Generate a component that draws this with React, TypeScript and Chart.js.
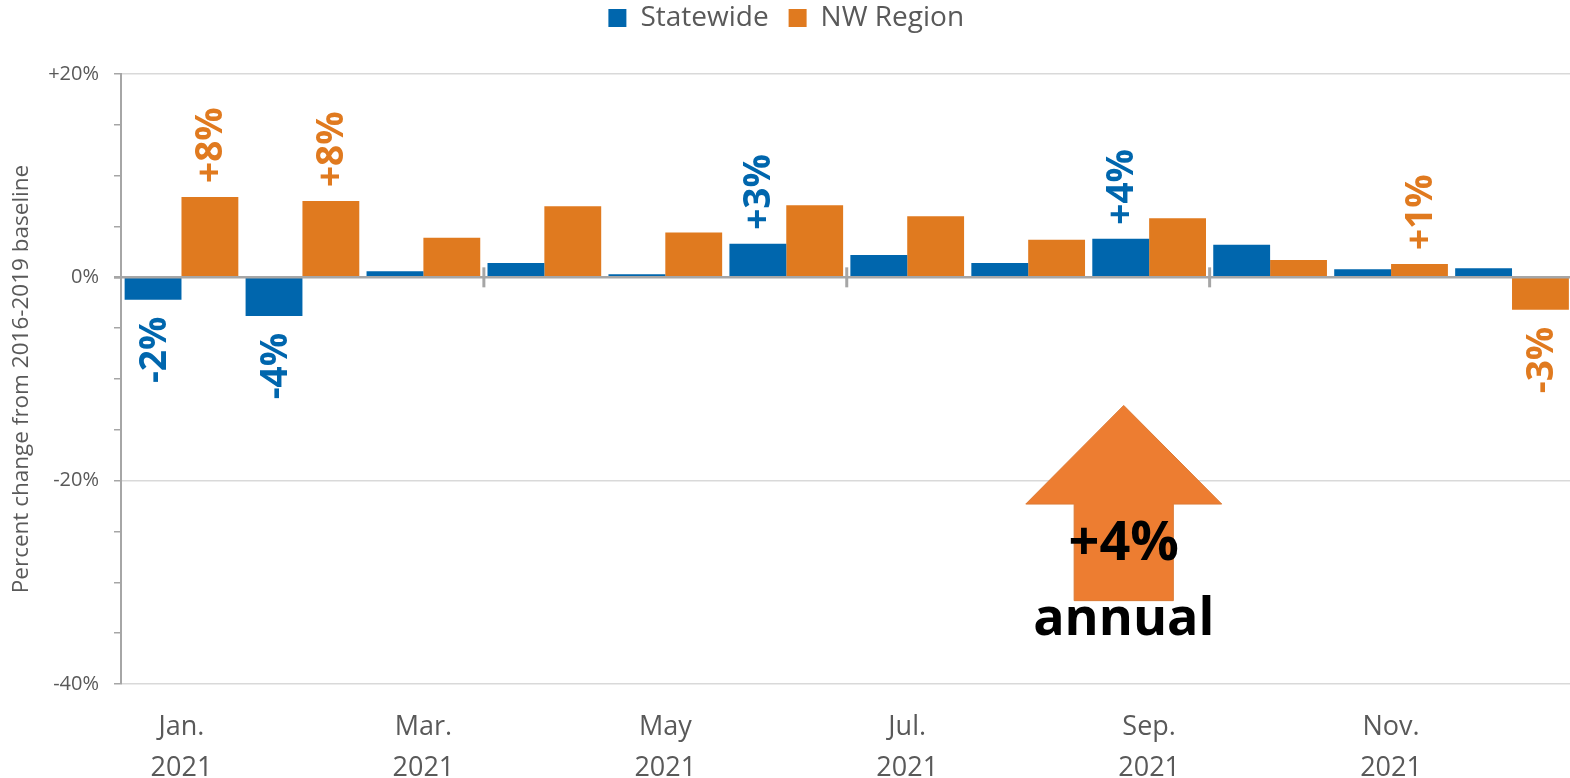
import React, { useEffect, useRef } from 'react';
import { Chart, registerables, layouts } from 'chart.js';

Chart.register(...registerables);

const months = ['Jan.', 'Feb.', 'Mar.', 'Apr.', 'May', 'Jun.', 'Jul.', 'Aug.', 'Sep.', 'Oct.', 'Nov.', 'Dec.'];
const year = '2021';
const statewide = [-2.2, -3.8, 0.6, 1.4, 0.3, 3.3, 2.2, 1.4, 3.8, 3.2, 0.8, 0.9];
const nwRegion = [7.9, 7.5, 3.9, 7.0, 4.4, 7.1, 6.0, 3.7, 5.8, 1.7, 1.3, -3.2];
const statewideLabels = ['-2%', '-4%', '', '', '', '+3%', '', '', '+4%', '', '', ''];
const nwLabels = ['+8%', '+8%', '', '', '', '', '', '', '', '', '+1%', '-3%'];
const seriesNames = ['Statewide', 'NW Region'];
const seriesColors = ['#0066AD', '#E07A1F'];
const yMin = -40;
const yMax = 20;
const yStep = 5;
const yLabelStep = 20;
const yTitle = 'Percent change from 2016-2019 baseline';
const zeroLineTickAfter = [2, 5, 8, 11];

// annotation (arrow) in data units: x in category index, y in percent
const arrowX = 7.79;
const arrowTipY = -12.6;
const arrowWingY = -22.3;
const arrowBottomY = -31.8;
const arrowHeadHalf = 0.81;
const arrowShaftHalf = 0.41;
const arrowText = '+4%';
const arrowTextY = -26.3;
const arrowSubText = 'annual';
const arrowSubTextY = -33.7;

const FONT = "'Open Sans', sans-serif";
const GRAY = '#595959';

const spacerPlugin = {
  id: 'spacer',
  beforeInit(chart: any) {
    const box: any = {
      position: 'top',
      weight: 500,
      fullSize: true,
      options: {},
      left: 0, top: 0, right: 0, bottom: 0, width: 0, height: 0,
      isHorizontal() { return true; },
      update(maxWidth: number) {
        this.width = maxWidth;
        this.height = 32;
        return { width: maxWidth, height: 32 };
      },
      draw() {},
    };
    layouts.addBox(chart, box);
  },
};

const decorPlugin = {
  id: 'decor',
  afterDatasetsDraw(chart: any) {
    const { ctx, chartArea } = chart;
    const x = chart.scales.x;
    const y = chart.scales.y;
    const y0 = y.getPixelForValue(0);
    ctx.save();
    // zero line
    ctx.strokeStyle = '#A6A6A6';
    ctx.lineWidth = 2.5;
    ctx.beginPath();
    ctx.moveTo(chartArea.left - 7, y0);
    ctx.lineTo(chartArea.right, y0);
    ctx.stroke();
    ctx.lineWidth = 3;
    for (const b of zeroLineTickAfter) {
      const px = (x.getPixelForValue(b) + x.getPixelForValue(b + 1)) / 2;
      ctx.beginPath();
      ctx.moveTo(px, y0 - 10);
      ctx.lineTo(px, y0 + 10);
      ctx.stroke();
    }
    // data labels
    const labelSets = [statewideLabels, nwLabels];
    chart.data.datasets.forEach((ds: any, di: number) => {
      const meta = chart.getDatasetMeta(di);
      meta.data.forEach((bar: any, i: number) => {
        const txt = labelSets[di][i];
        if (!txt) return;
        const v = ds.data[i];
        ctx.save();
        ctx.translate(bar.x + 2, bar.y);
        ctx.rotate(-Math.PI / 2);
        ctx.font = `bold 37px ${FONT}`;
        ctx.fillStyle = seriesColors[di];
        ctx.textBaseline = 'middle';
        if (v >= 0) {
          ctx.textAlign = 'left';
          ctx.fillText(txt, 14, 0);
        } else {
          ctx.textAlign = 'right';
          ctx.fillText(txt, -17, 0);
        }
        ctx.restore();
      });
    });
    // arrow annotation
    const cat = x.getPixelForValue(1) - x.getPixelForValue(0);
    const cx = x.getPixelForValue(0) + arrowX * cat;
    const tipY = y.getPixelForValue(arrowTipY);
    const wingY = y.getPixelForValue(arrowWingY);
    const botY = y.getPixelForValue(arrowBottomY);
    const hh = arrowHeadHalf * cat;
    const sh = arrowShaftHalf * cat;
    ctx.beginPath();
    ctx.moveTo(cx, tipY);
    ctx.lineTo(cx + hh, wingY);
    ctx.lineTo(cx + sh, wingY);
    ctx.lineTo(cx + sh, botY);
    ctx.lineTo(cx - sh, botY);
    ctx.lineTo(cx - sh, wingY);
    ctx.lineTo(cx - hh, wingY);
    ctx.closePath();
    ctx.fillStyle = '#ED7D31';
    ctx.fill();
    ctx.strokeStyle = '#DB7A35';
    ctx.lineWidth = 1;
    ctx.stroke();
    ctx.fillStyle = '#000';
    ctx.textAlign = 'center';
    ctx.textBaseline = 'middle';
    ctx.font = `bold 54px ${FONT}`;
    ctx.fillText(arrowText, cx, y.getPixelForValue(arrowTextY));
    ctx.font = `bold 52px ${FONT}`;
    ctx.fillText(arrowSubText, cx, y.getPixelForValue(arrowSubTextY));
    ctx.restore();
  },
};

export default function App() {
  const ref = useRef<HTMLCanvasElement>(null);
  useEffect(() => {
    document.body.style.margin = '0';
    document.body.style.overflow = 'hidden';
    Chart.defaults.font.family = FONT;
    const chart = new Chart(ref.current as HTMLCanvasElement, {
      type: 'bar',
      data: {
        labels: months.map((m) => `${m} ${year}`),
        datasets: [
          { label: seriesNames[0], data: statewide, backgroundColor: seriesColors[0], borderWidth: 0 },
          { label: seriesNames[1], data: nwRegion, backgroundColor: seriesColors[1], borderWidth: 0 },
        ],
      },
      options: {
        responsive: false,
        animation: false,
        devicePixelRatio: 1,
        layout: { padding: { top: -16, left: 0, right: 11.5, bottom: 0 } },
        datasets: { bar: { categoryPercentage: 0.94, barPercentage: 1.0 } },
        plugins: {
          legend: {
            position: 'top',
            labels: {
              boxWidth: 18,
              boxHeight: 18,
              padding: 20,
              color: GRAY,
              font: { size: 28, family: FONT },
            },
          },
          tooltip: { enabled: false },
        },
        scales: {
          x: {
            grid: { display: false, drawTicks: false },
            border: { display: false },
            afterFit(scale: any) { scale.height = 94; },
            ticks: {
              autoSkip: false,
              maxRotation: 0,
              minRotation: 0,
              padding: 22,
              color: GRAY,
              font: { size: 27, family: FONT, lineHeight: 1.55 },
              callback: (_v: any, idx: number) => (idx % 2 === 0 ? [months[idx], year] : ''),
            },
          },
          y: {
            min: yMin,
            max: yMax,
            afterFit(scale: any) { scale.width = 121; },
            border: { display: true, color: '#A6A6A6', width: 2 },
            grid: {
              drawTicks: true,
              tickLength: 7,
              tickColor: '#A6A6A6',
              tickWidth: 1.5,
              lineWidth: 1.5,
              color: (c: any) => {
                const v = c.tick ? c.tick.value : 0;
                return v % yLabelStep === 0 && v !== 0 ? '#D9D9D9' : 'rgba(0,0,0,0)';
              },
            },
            ticks: {
              stepSize: yStep,
              autoSkip: false,
              padding: 15,
              color: GRAY,
              font: { size: 20, family: FONT },
              callback: (v: any) => {
                const n = Number(v);
                if (n % yLabelStep !== 0) return '';
                return n > 0 ? `+${n}%` : `${n}%`;
              },
            },
            title: {
              display: true,
              text: yTitle,
              color: GRAY,
              font: { size: 22.5, family: FONT },
              padding: { top: 8, bottom: 0 },
            },
          },
        },
      },
      plugins: [spacerPlugin, decorPlugin],
    } as any);
    return () => chart.destroy();
  }, []);
  return (
    <div style={{ position: 'fixed', left: 0, top: 0, width: 1570, height: 778, overflow: 'hidden', background: '#fff' }}>
      <canvas ref={ref} width={1584} height={778} style={{ display: 'block', width: 1584, height: 778 }} />
    </div>
  );
}
